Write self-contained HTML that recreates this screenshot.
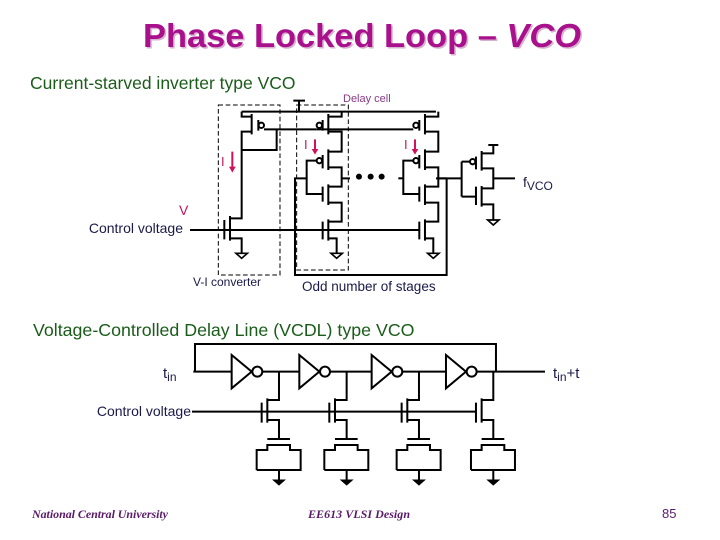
<!DOCTYPE html>
<html><head><meta charset="utf-8"><style>
html,body{margin:0;padding:0;background:#fff;}
svg{display:block;}
</style></head><body>
<svg width="720" height="540" viewBox="0 0 720 540" xmlns="http://www.w3.org/2000/svg" font-family="Liberation Sans, sans-serif">
<text x="143" y="47" font-size="33" font-weight="bold" fill="#d8b0d0" textLength="438" lengthAdjust="spacingAndGlyphs" transform="translate(1.5,1.5)">Phase Locked Loop – <tspan font-style="italic">VCO</tspan></text>
<text x="143" y="47" font-size="33" font-weight="bold" fill="#a8108c" textLength="438" lengthAdjust="spacingAndGlyphs">Phase Locked Loop – <tspan font-style="italic">VCO</tspan></text>
<text x="30" y="89" font-size="17.5" fill="#1a5c1a">Current-starved inverter type VCO</text>
<text x="343" y="102" font-size="11" fill="#8a3a8a">Delay cell</text>

<g transform="translate(180,90) scale(0.3333)" fill="none" stroke="#000" stroke-width="6">
 <rect x="115" y="45" width="185" height="510" stroke-dasharray="14,8" stroke-width="3"/>
 <rect x="350" y="45" width="155" height="495" stroke-dasharray="14,8" stroke-width="3"/>
 <path d="M357 65 V32 M340 32 H375"/>
 <path d="M185 65 H768"/>
 <path d="M185 65 V80 H215 M215 72 V133 M215 125 H185 V385 H150 M150 378 V452 M150 445 H185 V490"/>
 <path d="M235 90 V122 M133 390 V448"/>
 <circle cx="244" cy="106" r="8"/>
 <path d="M252 118 H410 M290 118 V180 H185"/>
 <polygon points="168,490 202,490 185,505" stroke-width="5"/>
 <path d="M30 420 H718"/>
 <g id="cell">
  <path d="M485 65 V80 H445 M445 72 V133 M445 125 H485 V185 H445 M445 178 V240 M445 232 H485 V290 H445 M445 283 V345 M445 338 H485 V395 H445 M445 388 V452 M445 445 H470 V490"/>
  <path d="M428 90 V122 M428 195 V235 M428 290 V335 M428 395 V448"/>
  <circle cx="418" cy="106" r="8"/>
  <circle cx="418" cy="212" r="8"/>
  <path d="M410 212 H380 V312 H428 M485 265 H510"/>
  <polygon points="453,490 487,490 470,505" stroke-width="5"/>
 </g>
 <use href="#cell" transform="translate(290,0)"/>
 <path d="M380 265 H345 V555 H800 V265 M768 265 H845"/>
 <path d="M655 265 H670"/>
 <path d="M410 118 H700"/>
 <path d="M845 215 V320 M845 215 H870 M845 320 H888 M888 200 V238 M888 290 V345 M940 165 V190 H905 M905 183 V242 M905 235 H940 V295 H905 M905 288 V350 M905 343 H940 V390 M925 165 H955 M940 265 H1005"/>
 <circle cx="878" cy="215" r="8"/>
 <polygon points="923,390 957,390 940,405" stroke-width="5"/>
 <g fill="#000" stroke="none"><circle cx="537" cy="260" r="9"/><circle cx="572" cy="260" r="9"/><circle cx="605" cy="260" r="9"/></g>
 <g stroke="#d0105a" stroke-width="6">
  <path d="M157 185 V235 M405 148 V182 M705 148 V182"/>
 </g>
 <g fill="#d0105a" stroke="none">
  <polygon points="147,230 167,230 157,248"/>
  <polygon points="395,177 415,177 405,194"/>
  <polygon points="695,177 715,177 705,194"/>
 </g>
</g>
<g font-size="13" fill="#c01860">
 <text x="221" y="166">I</text><text x="304" y="149">I</text><text x="404" y="149">I</text>
</g>
<text x="523" y="187" font-size="14" fill="#1a1a4a">f<tspan font-size="12" dy="3">VCO</tspan></text>
<text x="179" y="215" font-size="14" fill="#c01860">V</text>
<text x="183" y="233" font-size="14" fill="#1a1a4a" text-anchor="end">Control voltage</text>
<text x="193" y="286" font-size="12" fill="#1a1a4a">V-I converter</text>
<text x="302" y="291" font-size="13.5" fill="#1a1a4a">Odd number of stages</text>
<text x="33" y="336" font-size="17.8" fill="#1a5c1a">Voltage-Controlled Delay Line (VCDL) type VCO</text>
<text x="163" y="378" font-size="15" fill="#1a1a4a">t<tspan font-size="12" dy="3">in</tspan></text>
<text x="553" y="378" font-size="15" fill="#1a1a4a">t<tspan font-size="12" dy="3">in</tspan><tspan dy="-3">+t</tspan></text>
<text x="191" y="416" font-size="14" fill="#1a1a4a" text-anchor="end">Control voltage</text>

<g transform="translate(180,340) scale(0.3333)" fill="none" stroke="#000" stroke-width="6">
 <path d="M45 95 V12 H948 V95 M40 95 H155 M1095 95 H248 M36 215 H890"/>
 <g id="inv">
  <polygon points="155,45 155,145 215,95" fill="#fff"/>
  <circle cx="232" cy="95" r="15" fill="#fff"/>
  <path d="M297 95 V180 H262 M262 175 V248 M262 240 H297 V295 M245 188 V248 M262 297 H330 M230 390 V330 H262 V315 H330 V330 H362 V390 H230 M297 390 V420"/>
  <polygon points="280,420 314,420 297,435" fill="#000" stroke-width="3"/>
 </g>
 <use href="#inv" transform="translate(203,0)"/>
 <use href="#inv" transform="translate(420,0)"/>
 <use href="#inv" transform="translate(643,0)"/>
</g>

<text x="32" y="518" font-size="12" font-style="italic" font-weight="bold" fill="#5a1a6a" font-family="Liberation Serif, serif" textLength="136">National Central University</text>
<text x="308" y="518" font-size="12" font-style="italic" font-weight="bold" fill="#5a1a6a" font-family="Liberation Serif, serif" textLength="102">EE613 VLSI Design</text>
<text x="662" y="518" font-size="13" fill="#5a1a6a">85</text>
</svg>
</body></html>
